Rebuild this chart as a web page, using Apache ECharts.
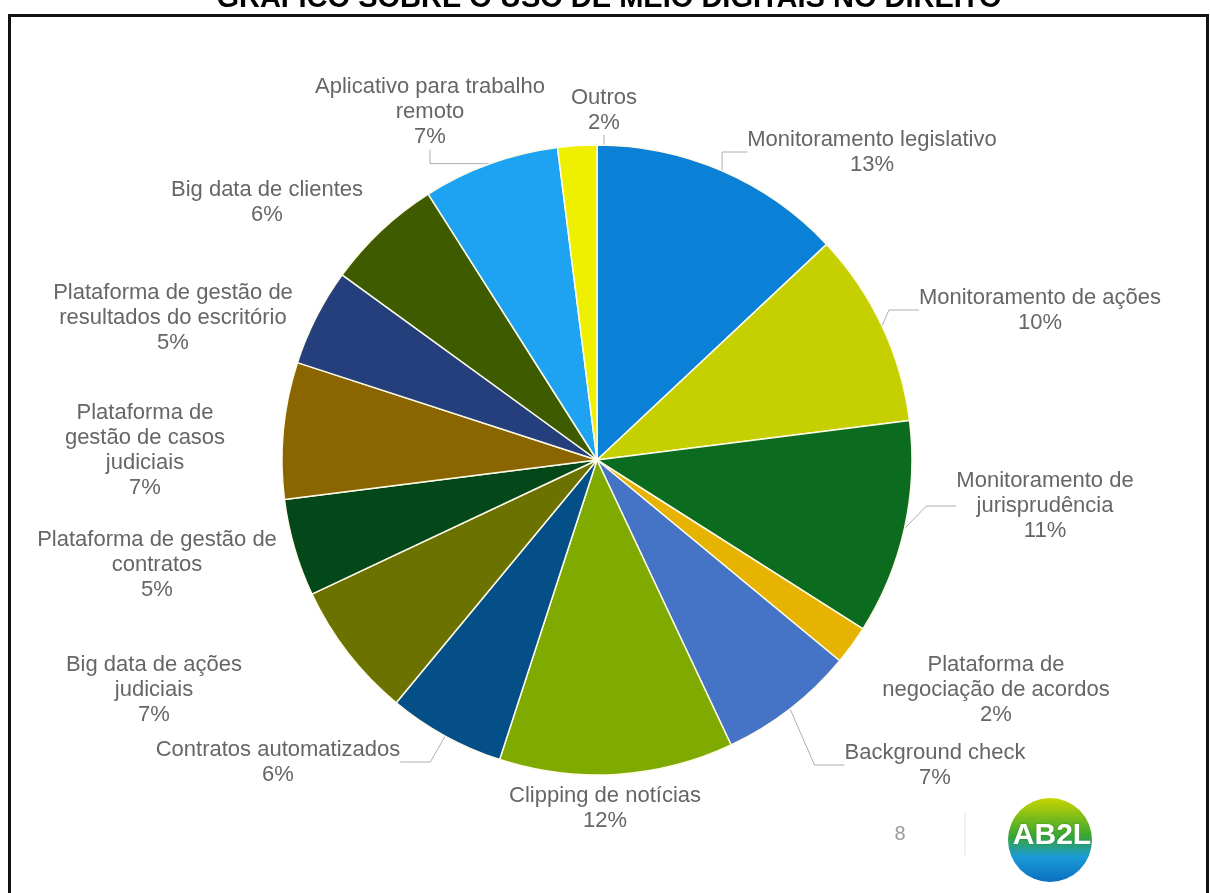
<!DOCTYPE html>
<html lang="pt-BR">
<head>
    <meta charset="UTF-8">
    <title>Gráfico sobre o uso de meio digitais no direito</title>
    <script src="https://cdn.jsdelivr.net/npm/echarts@6.0.0/dist/echarts.min.js"></script>
    <style>
        html, body { margin: 0; padding: 0; background: #fff; }
        #chart { width: 1210px; height: 893px; }
    </style>
</head>
<body>
    <div id="chart"></div>
    <script>
        // categorias (sentido horário a partir do topo)
        const categories = [
            'Monitoramento legislativo',
            'Monitoramento de ações',
            'Monitoramento de\njurisprudência',
            'Plataforma de\nnegociação de acordos',
            'Background check',
            'Clipping de notícias',
            'Contratos automatizados',
            'Big data de ações\njudiciais',
            'Plataforma de gestão de\ncontratos',
            'Plataforma de\ngestão de casos\njudiciais',
            'Plataforma de gestão de\nresultados do escritório',
            'Big data de clientes',
            'Aplicativo para trabalho\nremoto',
            'Outros'
        ];
        const values = [13, 10, 11, 2, 7, 12, 6, 7, 5, 7, 5, 6, 7, 2];

        const colors = [
            '#0a80d6', '#c6d000', '#0b6c1f', '#e6b300', '#4573c6', '#7faa00', '#044f88',
            '#6c7200', '#044718', '#8a6500', '#243f7b', '#3e5b00', '#1ea2f2', '#eef000'
        ];
        // posição dos rótulos (centro do texto)
        const labelPos = [
            [872, 152], [1040, 310], [1045, 506], [996, 690], [935, 765], [605, 808], [278, 762],
            [154, 690], [157, 565], [145, 450], [173, 318], [267, 202], [430, 112], [604, 110]
        ];
        const leader = [true, true, true, false, true, false, true, false, false, false, false, false, true, true];

        const chart = echarts.init(document.getElementById('chart'));
        chart.setOption({
            animation: false,
            graphic: [
                {
                    type: 'rect',
                    shape: { x: 9.5, y: 15.5, width: 1198, height: 900 },
                    style: { fill: null, stroke: '#111', lineWidth: 3 }
                },
                {
                    type: 'text',
                    x: 609, y: 13,
                    style: {
                        text: 'GRÁFICO SOBRE O USO DE MEIO DIGITAIS NO DIREITO',
                        fill: '#000', font: 'bold 29px "Liberation Sans", Arial, sans-serif',
                        textAlign: 'center', textVerticalAlign: 'bottom'
                    }
                },
                {
                    type: 'text',
                    x: 900, y: 834,
                    style: {
                        text: '8', fill: '#9a9a9a', font: '20px "Liberation Sans", Arial, sans-serif',
                        textAlign: 'center', textVerticalAlign: 'middle'
                    }
                },
                {
                    type: 'line',
                    shape: { x1: 965, y1: 812, x2: 965, y2: 855 },
                    style: { stroke: '#e2e2e2', lineWidth: 1 }
                },
                {
                    type: 'circle',
                    shape: { cx: 1050, cy: 840, r: 42 },
                    style: {
                        fill: {
                            type: 'linear', x: 0, y: 0, x2: 0, y2: 1,
                            colorStops: [
                                { offset: 0, color: '#c8d400' },
                                { offset: 0.45, color: '#38a632' },
                                { offset: 0.7, color: '#1a9ad6' },
                                { offset: 1, color: '#0a6fc0' }
                            ]
                        }
                    }
                },
                {
                    type: 'text',
                    x: 1052, y: 836,
                    style: {
                        text: 'AB2L', fill: '#fff', font: 'bold 30px "Liberation Sans", Arial, sans-serif',
                        textAlign: 'center', textVerticalAlign: 'middle',
                        textShadowColor: 'rgba(0,60,0,0.4)', textShadowBlur: 2
                    }
                }
            ],
            series: [{
                type: 'pie',
                center: [597, 460],
                radius: 315,
                startAngle: 90,
                clockwise: true,
                data: categories.map((name, i) => ({
                    name: name,
                    value: values[i],
                    itemStyle: { color: colors[i] },
                    labelLine: { show: leader[i] }
                })),
                itemStyle: { borderColor: '#fdfbe8', borderWidth: 1.5 },
                label: {
                    show: true,
                    position: 'outside',
                    formatter: '{b}\n{c}%',
                    color: '#666',
                    fontFamily: '"Liberation Sans", Arial, sans-serif',
                    fontSize: 22,
                    lineHeight: 25,
                    align: 'center'
                },
                labelLine: {
                    lineStyle: { color: '#a6b0b8', width: 1 }
                },
                labelLayout: function (params) {
                    const p = labelPos[params.dataIndex];
                    return { x: p[0], y: p[1], align: 'center', verticalAlign: 'middle' };
                }
            }]
        });
    </script>
</body>
</html>
